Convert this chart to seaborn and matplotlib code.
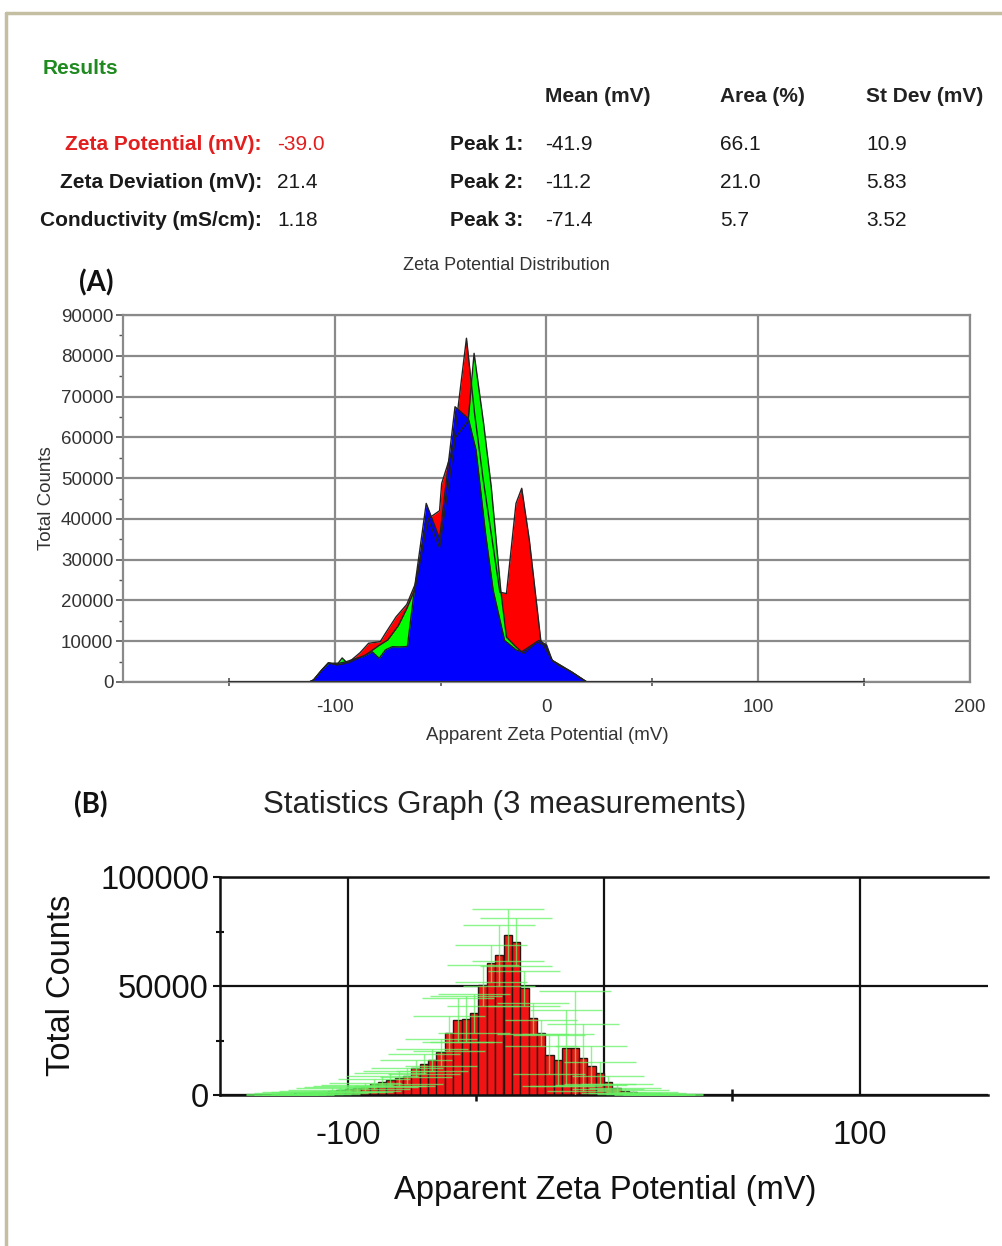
import numpy as np
import pandas as pd
import matplotlib
matplotlib.use("Agg")
import matplotlib.pyplot as plt
import seaborn as sns
from matplotlib.lines import Line2D
from matplotlib.ticker import MultipleLocator, FixedLocator

# ---------------- data ----------------
summary_labels = ["Zeta Potential (mV):", "Zeta Deviation (mV):", "Conductivity (mS/cm):"]
summary_values = ["-39.0", "21.4", "1.18"]
peak_labels = ["Peak 1:", "Peak 2:", "Peak 3:"]
peak_columns = ["Mean (mV)", "Area (%)", "St Dev (mV)"]
peak_mean = ["-41.9", "-11.2", "-71.4"]
peak_area = ["66.1", "21.0", "5.7"]
peak_sd = ["10.9", "5.83", "3.52"]

# Panel A: three zeta potential distributions (mV, total counts)
red_x = [-150, -112, -110, -106, -103, -99, -96, -93, -88, -84, -78.5, -76, -71, -66, -62,
         -56, -50.5, -49.5, -44, -37.8, -34, -30, -26, -22, -18.9, -14.4, -11.7, -8.1, -2.7,
         2.7, 11.7, 19, 150]
red_y = [0, 0, 500, 3000, 4700, 4200, 4400, 5000, 7200, 9500, 9900, 12000, 16000, 19000, 24000,
         40000, 42000, 48700, 57700, 84300, 66000, 50000, 36000, 22000, 21700, 43800, 47500,
         34800, 10200, 5300, 2500, 0, 0]

green_x = [-150, -112, -110, -106, -103, -99, -96.5, -94, -89, -85.5, -79, -75, -70, -66, -62,
           -56, -50.5, -43, -37, -34.2, -29.7, -26.1, -21.6, -18.9, -14.4, -10.8, -4.5, -1,
           2.7, 11.7, 19, 150]
green_y = [0, 0, 500, 3000, 4700, 4200, 5900, 4600, 5800, 6600, 9000, 10300, 13800, 18000, 23000,
           40000, 33000, 60000, 64000, 80600, 63400, 47900, 22500, 11000, 8600, 7000, 9800, 9000,
           5300, 2500, 0, 0]

blue_x = [-150, -112, -110, -106, -102.8, -98, -95, -91, -87, -82.3, -79, -76, -72.8, -69.5,
          -65.7, -61.8, -56.8, -50.5, -43.2, -36.9, -33.3, -28.8, -25.2, -19.8, -14.4, -11.7,
          -3.6, 0, 2.7, 6, 11.7, 19, 150]
blue_y = [0, 0, 500, 3000, 4600, 4600, 4900, 5600, 6200, 7400, 5800, 7900, 8650, 8600,
          8700, 25000, 43800, 35200, 67500, 64600, 56900, 36400, 22500, 10200, 7900, 7400,
          10200, 9100, 5300, 4000, 2500, 0, 0]

# Panel B: statistics graph (3 measurements) - bin centres (mV), mean counts, st. dev.
bin_centers = [-125.9, -122.6, -119.4, -116.1, -112.8, -109.5, -106.3, -103.0, -99.7, -96.5,
               -93.2, -89.9, -86.7, -83.4, -80.1, -76.8, -73.6, -70.3, -67.0, -63.8,
               -60.5, -57.2, -54.0, -50.7, -47.4, -44.1, -40.9, -37.6, -34.3, -31.1,
               -27.8, -24.5, -21.3, -18.0, -14.7, -11.4, -8.2, -4.9, -1.6, 1.6,
               4.9, 8.2, 11.4, 14.7, 18.0, 21.3, 24.5]
bar_counts = [300, 500, 700, 900, 1200, 1500, 2000, 2400, 2800, 3100,
              3800, 5000, 6100, 6900, 7600, 8800, 12200, 14200, 16000, 19500,
              28300, 34400, 34800, 37500, 50300, 60400, 64200, 73400, 70300, 48900,
              35200, 28300, 18500, 16000, 21400, 21400, 17200, 13400, 10000, 5800,
              3100, 2000, 1400, 900, 500, 300, 150]
bar_sd = [300, 400, 500, 600, 700, 900, 1000, 1200, 1400, 1500,
          1800, 2200, 2600, 3000, 3300, 3600, 4000, 4500, 5000, 6000,
          8000, 10000, 10500, 9000, 9500, 8500, 14000, 12000, 11000, 8000,
          7000, 6000, 9000, 12000, 17500, 26500, 15500, 9000, 5000, 3000,
          2000, 1300, 900, 600, 400, 300, 200]

# ---------------- style ----------------
sns.set_theme(style="white")
FONT = ["Liberation Sans", "DejaVu Sans"]
plt.rcParams["font.family"] = FONT

W, H = 1003, 1246
fig = plt.figure(figsize=(W / 100, H / 100), dpi=100)
fig.patch.set_facecolor("white")


def fx(x):
    return x / W


def fy(y):
    return 1 - y / H


# frame
frame_col = "#c4bfa2"
fig.add_artist(Line2D([fx(6), fx(1003)], [fy(13), fy(13)], color=frame_col, lw=2.5))
fig.add_artist(Line2D([fx(6), fx(6)], [fy(13), fy(1246)], color=frame_col, lw=2.5))

# ---------------- results table ----------------
fig.text(fx(43), fy(68), "Results", color="#1f8a1f", fontsize=15, fontweight="bold",
         ha="left", va="center")
for lab, col_x in zip(peak_columns, [545, 720, 866]):
    fig.text(fx(col_x), fy(97), lab, fontsize=15, fontweight="bold", color="#222222",
             ha="left", va="center")
row_y = [145, 182, 221]
for i, (lab, val) in enumerate(zip(summary_labels, summary_values)):
    c = "#e31e1e" if i == 0 else "#1a1a1a"
    fig.text(fx(262), fy(row_y[i]), lab, fontsize=15, fontweight="bold", color=c,
             ha="right", va="center")
    fig.text(fx(277), fy(row_y[i]), val, fontsize=15, color=c, ha="left", va="center")
for i, lab in enumerate(peak_labels):
    fig.text(fx(523), fy(row_y[i]), lab, fontsize=15, fontweight="bold", color="#1a1a1a",
             ha="right", va="center")
    for col_x, vals in zip([545, 720, 866], [peak_mean, peak_area, peak_sd]):
        fig.text(fx(col_x), fy(row_y[i]), vals[i], fontsize=15, color="#1a1a1a",
                 ha="left", va="center")

# ---------------- panel A ----------------
axA = fig.add_axes([fx(123), fy(682), fx(970) - fx(123), fy(315) - fy(682)])
grid_col = "#8a8a8a"
for xs, ys, col in [(red_x, red_y, "#ff0000"), (green_x, green_y, "#00ff00"),
                    (blue_x, blue_y, "#0000ff")]:
    axA.fill_between(xs, ys, 0, color=col, lw=0, zorder=2)
    sns.lineplot(x=xs, y=ys, ax=axA, color="#222222", lw=1.0, sort=False,
                 estimator=None, zorder=3)
axA.plot([-150, 150], [0, 0], color="#333333", lw=2.2, zorder=4, solid_capstyle="butt")
axA.set_xlim(-200, 200)
axA.set_ylim(0, 90000)
axA.xaxis.set_major_locator(FixedLocator([-100, 0, 100, 200]))
axA.xaxis.set_minor_locator(FixedLocator([-150, -50, 50, 150]))
axA.yaxis.set_major_locator(MultipleLocator(10000))
axA.yaxis.set_minor_locator(MultipleLocator(5000))
axA.grid(True, which="major", color=grid_col, lw=1.6)
axA.set_axisbelow(True)
for s in axA.spines.values():
    s.set_color(grid_col)
    s.set_linewidth(1.6)
axA.tick_params(axis="both", which="both", colors="#555555", labelcolor="#333333",
                labelsize=13.5)
axA.tick_params(axis="y", which="major", direction="out", length=5, width=1.2, pad=2, left=True)
axA.tick_params(axis="y", which="minor", direction="out", length=3, width=1, left=True)
axA.tick_params(axis="x", which="major", length=0, pad=12)
axA.tick_params(axis="x", which="minor", direction="inout", length=6, width=1.2, bottom=True)
axA.set_xticklabels(["-100", "0", "100", "200"])
axA.set_xlabel("")
axA.set_ylabel("")
fig.text(fx(506), fy(265), "Zeta Potential Distribution", fontsize=13, color="#333333",
         ha="center", va="center")
fig.text(fx(547), fy(736), "Apparent Zeta Potential (mV)", fontsize=13.5, color="#333333",
         ha="center", va="center")
fig.text(fx(47), fy(498), "Total Counts", fontsize=13.5, color="#333333", rotation=90,
         ha="center", va="center")
fig.text(fx(96), fy(283), "(A)", fontsize=20, fontweight="bold", color="#111111",
         family=["Lato", "DejaVu Sans"], ha="center", va="center")

# ---------------- panel B ----------------
axB = fig.add_axes([fx(220), fy(1095), fx(988) - fx(220), fy(877) - fy(1095)])
axB.bar(bin_centers, bar_counts, width=3.27, color="#f21414", edgecolor="#2a1510",
        linewidth=1.0, zorder=2)
axB.errorbar(bin_centers, bar_counts, yerr=bar_sd, fmt="none", ecolor=(0.4, 0.95, 0.4, 0.75),
             elinewidth=1.0, capsize=26, capthick=1.0, zorder=3)
axB.set_xlim(-150, 150)
axB.set_ylim(0, 100000)
axB.xaxis.set_major_locator(FixedLocator([-100, 0, 100]))
axB.xaxis.set_minor_locator(FixedLocator([-50, 50]))
axB.yaxis.set_major_locator(FixedLocator([0, 50000, 100000]))
axB.yaxis.set_minor_locator(FixedLocator([25000, 75000]))
axB.grid(True, which="major", color="#111111", lw=1.6)
axB.set_axisbelow(True)
axB.axhline(0, color="#111111", lw=2.2, zorder=1.5)
for name, s in axB.spines.items():
    s.set_color("#111111")
    s.set_linewidth(1.8)
axB.spines["right"].set_visible(False)
axB.tick_params(axis="both", which="both", colors="#111111", labelcolor="#111111",
                labelsize=23.5)
axB.tick_params(axis="y", which="major", direction="out", length=5, width=1.5, pad=3, left=True)
axB.tick_params(axis="y", which="minor", direction="inout", length=6, width=1.5, left=True)
axB.tick_params(axis="x", which="major", length=0, pad=18)
axB.tick_params(axis="x", which="minor", direction="inout", length=8, width=1.8, bottom=True)
axB.set_xticklabels(["-100", "0", "100"])
axB.set_yticklabels(["0", "50000", "100000"])
axB.set_xlabel("")
axB.set_ylabel("")
fig.text(fx(505), fy(805), "Statistics Graph (3 measurements)", fontsize=22.5, color="#222222",
         ha="center", va="center")
fig.text(fx(605), fy(1190), "Apparent Zeta Potential (mV)", fontsize=23.5, color="#111111",
         ha="center", va="center")
fig.text(fx(62), fy(985), "Total Counts", fontsize=23.5, color="#111111", rotation=90,
         ha="center", va="center")
fig.text(fx(91), fy(805), "(B)", fontsize=20, fontweight="bold", color="#111111",
         family=["Lato", "DejaVu Sans"], ha="center", va="center")

fig.savefig("out.png", dpi=100, facecolor="white")
